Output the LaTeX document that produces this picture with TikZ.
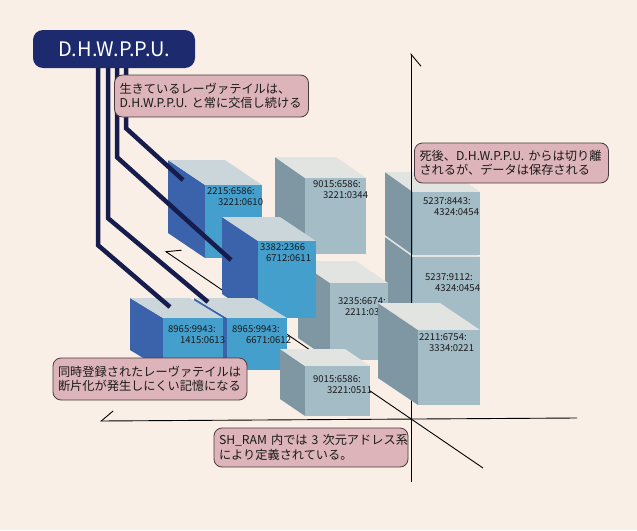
\documentclass[tikz,border=0pt]{standalone}
\usepackage{fontspec}
\setmainfont{Noto Sans CJK JP}
\usetikzlibrary{arrows.meta,positioning,calc}
\definecolor{paper}{HTML}{F9EFE7}
\definecolor{navy}{HTML}{1D2B6E}
\definecolor{busnavy}{HTML}{161C4C}
\definecolor{notepink}{HTML}{DDB4B9}
\definecolor{noteline}{HTML}{4A3B3E}
\definecolor{addrink}{HTML}{1A1A1A}
\definecolor{bluefront}{HTML}{449FCD}
\definecolor{blueside}{HTML}{3A63AC}
\definecolor{bluetop}{HTML}{CBD6DB}
\definecolor{grayfront}{HTML}{A4BCC6}
\definecolor{grayside}{HTML}{7F97A3}
\definecolor{graytop}{HTML}{E2E4E2}
\tikzset{
  titlebox/.style={
    fill=navy, rounded corners=10pt, text=white,
    minimum width=162pt, minimum height=38pt, inner sep=0pt,
    font=\fontsize{20}{24}\selectfont
  },
  notecard/.style={
    draw=noteline, fill=notepink, line width=0.8pt, rounded corners=8pt,
    align=left, inner xsep=5pt, inner ysep=3pt, text width=184pt,
    text=addrink, font=\fontsize{12.2}{14.5}\selectfont
  },
  addr/.style={
    anchor=north west, inner sep=0pt, align=left, text=addrink,
    font=\fontsize{9.5}{11.5}\selectfont
  },
  busline/.style={draw=busnavy, line width=4.5pt},
  axisline/.style={draw=black, line width=0.9pt},
  barbtip/.style={-{Straight Barb[harpoon,swap,length=12pt,width=20pt]}}
}
% x y w h dx dy palette
\newcommand{\memblock}[7]{%
  \fill[#7side] (#1,#2) -- ++(-#5,-#6) -- ++(0,#4) -- ++(#5,#6) -- cycle;
  \fill[#7top] (#1,#2) -- ++(#3,0) -- ++(-#5,-#6) -- ++(-#3,0) -- cycle;
  \fill[#7front] (#1,#2) rectangle ++(#3,#4);
}

\begin{document}
\begin{tikzpicture}[x=1pt,y=-1pt]
  \useasboundingbox (0,0) rectangle (637,530);
  \fill[paper] (0,0) rectangle (637,530);

  % back blocks
  \memblock{305}{178}{61}{76}{30}{21}{gray}
  \node[addr] (nC) at (313,180) {9015:6586:\\\hspace*{10pt}3221:0344};
  \memblock{413}{257}{67}{75}{28}{20}{gray}
  \node[addr] (nE2) at (425,273) {5237:9112:\\\hspace*{10pt}4324:0454};
  \memblock{413}{192}{67}{63}{28}{20}{gray}
  \node[addr] (nE1) at (423,197) {5237:8443:\\\hspace*{11pt}4324:0454};

  % axes
  \coordinate (orig) at (411,420);
  \coordinate (zend) at (411,53);
  \coordinate (zfoot) at (411,482);
  \coordinate (xend) at (100,421);
  \coordinate (xfar) at (577,418);
  \coordinate (yend) at (165,251);
  \coordinate (yfar) at (483,468);
  \draw[axisline,barbtip] (zfoot) -- (zend);
  \draw[axisline,barbtip] (xfar) -- (xend);
  \draw[axisline,barbtip] (yfar) -- (yend);

  % front blocks
  \memblock{205}{185}{57}{73}{37}{25}{blue}
  \node[addr] (nA) at (207,187) {2215:6586:\\\hspace*{11pt}3221:0610};
  \memblock{330}{283}{58}{77}{32}{22}{gray}
  \node[addr] (nD) at (338,297) {3235:6674:\\\hspace*{7pt}2211:03};
  \memblock{258}{241}{58}{77}{36}{24}{blue}
  \node[addr] (nB) at (260,243) {3382:2366\\\hspace*{6pt}6712:0611};
  \memblock{418}{330}{62}{75}{40}{27}{gray}
  \node[addr] (nF) at (419,333) {2211:6754:\\\hspace*{10pt}3334:0221};
  \memblock{227}{318}{60}{52}{33}{20}{blue}
  \node[addr] (nI) at (232,325) {8965:9943:\\\hspace*{14pt}6671:0612};
  \memblock{163}{318}{60}{52}{33}{20}{blue}
  \node[addr] (nH) at (168,325) {8965:9943:\\\hspace*{12pt}1415:0613};
  \memblock{305}{366}{65}{50}{25}{17}{gray}
  \node[addr] (nG) at (313,375) {9015:6586:\\\hspace*{14pt}3221:0511};

  % bus from D.H.W.P.P.U.
  \node[titlebox] (dhw) at (114,49) {D.H.W.P.P.U.};
  \coordinate (hookH) at (170,307);
  \coordinate (hookI) at (208,302);
  \coordinate (hookB) at (231,260);
  \coordinate (hookA) at (183,180);
  \draw[busline] ([xshift=-16pt]dhw.south) -- ++(0,177) -- (hookH);
  \draw[busline] ([xshift=-6pt]dhw.south) -- ++(0,150) -- (hookI);
  \draw[busline] ([xshift=3pt]dhw.south) -- ++(0,89) -- (hookB);
  \draw[busline] ([xshift=12pt]dhw.south) -- ++(0,60) -- (hookA);

  % notes
  \node[notecard,minimum height=42pt] (live) at (211.5,96)
    {生きているレーヴァテイルは、\\D.H.W.P.P.U.~と常に交信し続ける};
  \node[notecard,minimum height=40pt] (dead) at (511.5,163)
    {死後、D.H.W.P.P.U.~からは切り離\\されるが、データは保存される};
  \node[notecard,minimum height=42pt] (sync) at (150,379)
    {同時登録されたレーヴァテイルは\\断片化が発生しにくい記憶になる};
  \node[notecard,minimum height=39pt] (shram) at (311,447.5)
    {SH\_RAM~内では~3~次元アドレス系\\により定義されている。};
\end{tikzpicture}
\end{document}
